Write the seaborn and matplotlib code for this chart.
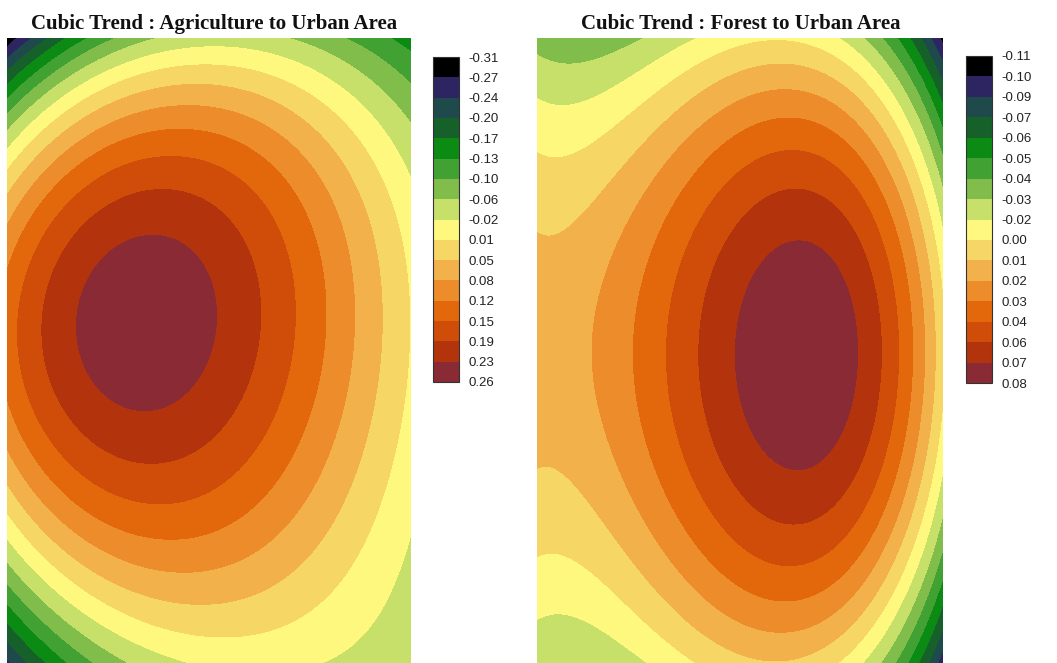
import numpy as np
import matplotlib
matplotlib.use("Agg")
import matplotlib.pyplot as plt
from matplotlib.colors import ListedColormap, BoundaryNorm
from matplotlib.cm import ScalarMappable
import seaborn as sns

sns.set_style("white")

# ---------------- data ----------------
# sample positions (fraction of panel width, left->right; fraction of height, top->bottom)
sample_x = [0.0, 1/6, 2/6, 3/6, 4/6, 5/6, 1.0]
sample_y = [0.0, 1/8, 2/8, 3/8, 4/8, 5/8, 6/8, 7/8, 1.0]

# Agriculture -> Urban: values read at sample points (rows = sample_y, cols = sample_x)
agri_values = [
    [-0.292, -0.150, -0.075, -0.050, -0.053, -0.096, -0.150],
    [-0.089,  0.028,  0.082,  0.089,  0.075,  0.011, -0.068],
    [ 0.032,  0.125,  0.190,  0.172,  0.136,  0.075, -0.011],
    [ 0.110,  0.238,  0.2547, 0.219,  0.156,  0.088, -0.004],
    [ 0.117,  0.245,  0.260,  0.2265, 0.162,  0.090,  0.000],
    [ 0.106,  0.220,  0.238,  0.2016, 0.142,  0.080, -0.007],
    [ 0.003,  0.078,  0.132,  0.143,  0.097,  0.046,  0.000],
    [-0.086, -0.007,  0.032,  0.061,  0.057,  0.000, -0.032],
    [-0.239, -0.114, -0.061, -0.007, -0.004, -0.036, -0.053],
]

# Forest -> Urban
forest_values = [
    [-0.032, -0.036, -0.023, -0.009, -0.008, -0.029, -0.106],
    [-0.010, -0.009,  0.015,  0.030,  0.031,  0.006, -0.057],
    [ 0.004,  0.012,  0.033,  0.048,  0.057,  0.033, -0.017],
    [ 0.0135, 0.016,  0.044,  0.061,  0.074,  0.056, -0.011],
    [ 0.0135, 0.023,  0.046,  0.069,  0.079,  0.063, -0.009],
    [ 0.0135, 0.017,  0.044,  0.062,  0.075,  0.057, -0.011],
    [ 0.006,  0.012,  0.033,  0.049,  0.057,  0.042, -0.017],
    [-0.009,  0.003,  0.020,  0.031,  0.031,  0.012, -0.045],
    [-0.029, -0.023, -0.007,  0.004,  0.005, -0.017, -0.104],
]

agri_range = [-0.31, 0.26]
forest_range = [-0.11, 0.08]

agri_ticklabels = ["-0.31", "-0.27", "-0.24", "-0.20", "-0.17", "-0.13", "-0.10", "-0.06",
                   "-0.02", "0.01", "0.05", "0.08", "0.12", "0.15", "0.19", "0.23", "0.26"]
forest_ticklabels = ["-0.11", "-0.10", "-0.09", "-0.07", "-0.06", "-0.05", "-0.04", "-0.03",
                     "-0.02", "0.00", "0.01", "0.02", "0.03", "0.04", "0.06", "0.07", "0.08"]

titles = ["Cubic Trend : Agriculture to Urban Area", "Cubic Trend : Forest to Urban Area"]

band_colors = ["#000000", "#2c2561", "#1e4a4c", "#16602a", "#0b8b13", "#41a233",
               "#80bd4b", "#c7e069", "#fef97e", "#f6d765", "#f2b14a", "#ec8c2b",
               "#e3680c", "#cf4d08", "#b3340c", "#8a2a35"]

# ---------------- cubic trend surface fit ----------------
def cubic_terms(x, y):
    return np.stack([np.ones_like(x), x, y, x**2, x*y, y**2,
                     x**3, x**2*y, x*y**2, y**3], axis=-1)

def cubic_trend(values, gx, gy):
    sx, sy = np.meshgrid(np.array(sample_x), np.array(sample_y))
    A = cubic_terms(sx.ravel(), sy.ravel())
    coef, *_ = np.linalg.lstsq(A, np.array(values).ravel(), rcond=None)
    X, Y = np.meshgrid(gx, gy)
    return X, Y, cubic_terms(X, Y) @ coef

gx = np.linspace(0, 1, 400)
gy = np.linspace(0, 1, 620)

cmap = ListedColormap(sns.color_palette(band_colors))
cmap.set_under(band_colors[0])
cmap.set_over(band_colors[-1])

W, H = 1057, 663
fig = plt.figure(figsize=(W / 100, H / 100), dpi=100)

panels = [
    dict(vals=agri_values, rng=agri_range, labels=agri_ticklabels, title=titles[0],
         ax=[7, 38, 404, 625], cb=[433, 57, 26, 325], tx=214),
    dict(vals=forest_values, rng=forest_range, labels=forest_ticklabels, title=titles[1],
         ax=[537, 38, 406, 625], cb=[966, 56, 26, 327], tx=741),
]

def rect(px):
    x, y, w, h = px
    return [x / W, (H - y - h) / H, w / W, h / H]

for p in panels:
    ax = fig.add_axes(rect(p["ax"]))
    levels = np.linspace(p["rng"][0], p["rng"][1], 17)
    norm = BoundaryNorm(levels, cmap.N)
    X, Y, Z = cubic_trend(p["vals"], gx, gy)
    ax.contourf(X, Y, Z, levels=levels, cmap=cmap, norm=norm, extend="both",
                antialiased=False)
    ax.set_xlim(0, 1)
    ax.set_ylim(1, 0)
    ax.set_axis_off()

    cax = fig.add_axes(rect(p["cb"]))
    sm = ScalarMappable(norm=BoundaryNorm(levels, cmap.N), cmap=cmap)
    cb = fig.colorbar(sm, cax=cax, ticks=levels, extend="neither", spacing="uniform")
    cb.ax.set_ylim(levels[-1], levels[0])
    cb.ax.set_yticks(levels)
    cb.ax.set_yticklabels(p["labels"], fontsize=9.5, family="Liberation Sans", color="#222222")
    cb.ax.tick_params(length=0, pad=7)
    cb.outline.set_linewidth(0.8)
    cb.outline.set_edgecolor("#333333")

    fig.text(p["tx"] / W, (H - 29) / H, p["title"], ha="center", va="baseline",
             fontsize=15, fontweight="bold", family="Liberation Serif", color="#111111")

fig.savefig("out.png", dpi=100, facecolor="white")
